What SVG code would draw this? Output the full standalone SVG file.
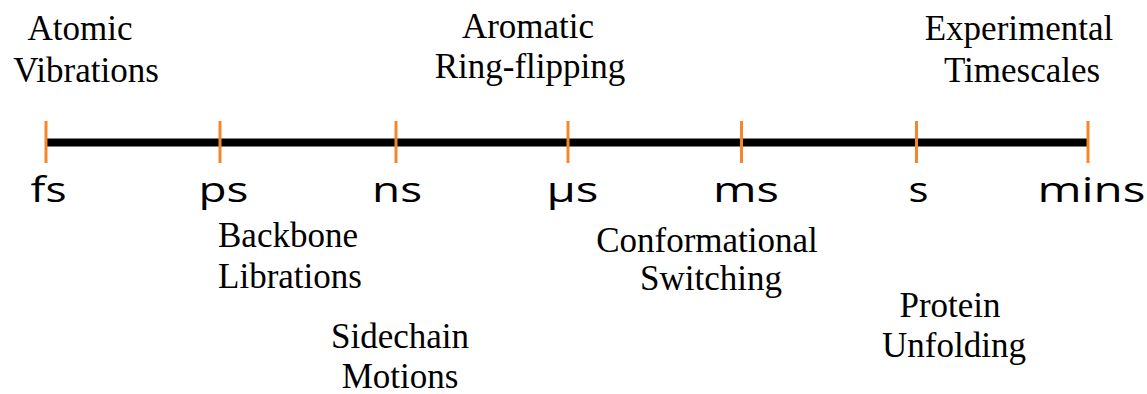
<svg xmlns="http://www.w3.org/2000/svg" width="1147" height="394" viewBox="0 0 1147 394">
  <style>
    .axis { stroke: #000; stroke-width: 8; }
    .tick { stroke: #F5862A; stroke-width: 3; }
    .unit { font-family: "Open Sans", "Liberation Sans", sans-serif; font-size: 34px; fill: #000; text-anchor: middle; }
    .label { font-family: "Liberation Serif", "DejaVu Serif", serif; font-size: 35px; fill: #000; text-anchor: middle; }
  </style>
  <rect width="1147" height="394" fill="#fff"/>

  <!-- timeline axis with tick marks -->
  <g id="connectors">
    <line class="axis" x1="46" y1="142.5" x2="1088" y2="142.5"/>
    <line class="tick" x1="46" y1="121" x2="46" y2="163"/>
    <line class="tick" x1="220" y1="121" x2="220" y2="163"/>
    <line class="tick" x1="396" y1="121" x2="396" y2="163"/>
    <line class="tick" x1="568" y1="121" x2="568" y2="163"/>
    <line class="tick" x1="741.5" y1="121" x2="741.5" y2="163"/>
    <line class="tick" x1="916.5" y1="121" x2="916.5" y2="163"/>
    <line class="tick" x1="1088" y1="121" x2="1088" y2="163"/>
  </g>

  <!-- unit labels under the ticks -->
  <g id="units">
    <text class="unit" x="48.5" y="202" textLength="36" lengthAdjust="spacingAndGlyphs">fs</text>
    <text class="unit" x="223.5" y="202" textLength="50" lengthAdjust="spacingAndGlyphs">ps</text>
    <text class="unit" x="397" y="202" textLength="50" lengthAdjust="spacingAndGlyphs">ns</text>
    <text class="unit" x="572.5" y="202" textLength="52" lengthAdjust="spacingAndGlyphs">μs</text>
    <text class="unit" x="746" y="202" textLength="66" lengthAdjust="spacingAndGlyphs">ms</text>
    <text class="unit" x="918.5" y="202" textLength="20" lengthAdjust="spacingAndGlyphs">s</text>
    <text class="unit" x="1091.5" y="202" textLength="108" lengthAdjust="spacingAndGlyphs">mins</text>
  </g>

  <!-- process labels -->
  <g id="atomic-vibrations">
    <text class="label" x="80" y="40">Atomic</text>
    <text class="label" x="86" y="82">Vibrations</text>
  </g>
  <g id="aromatic-ring-flipping">
    <text class="label" x="528" y="38">Aromatic</text>
    <text class="label" x="530" y="78">Ring-flipping</text>
  </g>
  <g id="experimental-timescales">
    <text class="label" x="1019" y="40">Experimental</text>
    <text class="label" x="1022" y="82">Timescales</text>
  </g>
  <g id="backbone-librations">
    <text class="label" x="288" y="247">Backbone</text>
    <text class="label" x="290" y="288">Librations</text>
  </g>
  <g id="sidechain-motions">
    <text class="label" x="400" y="348">Sidechain</text>
    <text class="label" x="400" y="388">Motions</text>
  </g>
  <g id="conformational-switching">
    <text class="label" x="707" y="252">Conformational</text>
    <text class="label" x="711" y="290">Switching</text>
  </g>
  <g id="protein-unfolding">
    <text class="label" x="950" y="317">Protein</text>
    <text class="label" x="954" y="357">Unfolding</text>
  </g>
</svg>
